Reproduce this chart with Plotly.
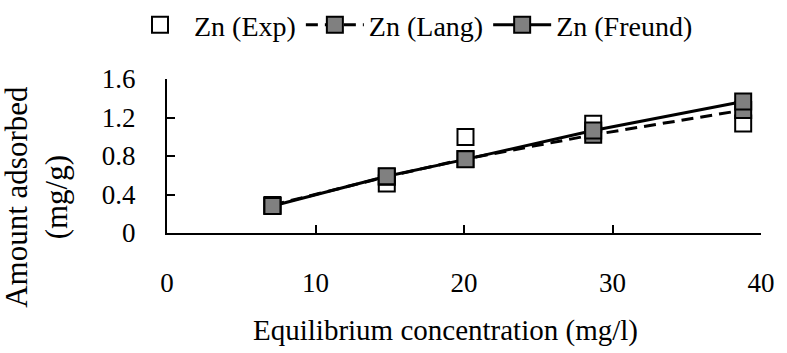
import plotly.graph_objects as go

# Data
conc = [7.1, 14.8, 20.1, 28.7, 38.8]
zn_exp = [0.28, 0.515, 0.998, 1.135, 1.138]
zn_lang = [0.29, 0.585, 0.77, 1.02, 1.277]
zn_freund = [0.28, 0.59, 0.765, 1.065, 1.367]

x_ticks = [0, 10, 20, 30, 40]
y_ticks = [0, 0.4, 0.8, 1.2, 1.6]
y_tick_text = ["0", "0.4", "0.8", "1.2", "1.6"]

FONT = "Liberation Serif"

fig = go.Figure()
fig.add_trace(go.Scatter(
    x=conc, y=zn_exp, mode="markers", name="Zn (Exp)",
    marker=dict(symbol="square", size=16, color="white",
                line=dict(color="black", width=2)),
))
fig.add_trace(go.Scatter(
    x=conc, y=zn_lang, mode="lines+markers", name="Zn (Lang)",
    line=dict(color="black", width=3, dash="12px,7px"),
    marker=dict(symbol="square", size=16, color="#808080",
                line=dict(color="black", width=2)),
))
fig.add_trace(go.Scatter(
    x=conc, y=zn_freund, mode="lines+markers", name="Zn (Freund)",
    line=dict(color="black", width=3),
    marker=dict(symbol="square", size=16, color="#808080",
                line=dict(color="black", width=2)),
))

fig.update_layout(
    width=787, height=353,
    margin=dict(l=167, r=18, t=79, b=120),
    paper_bgcolor="white", plot_bgcolor="white",
    font=dict(family=FONT, size=27, color="black"),
    showlegend=True,
    legend=dict(
        orientation="h", xref="container", yref="container",
        x=126 / 787, y=1.0, xanchor="left", yanchor="top",
        font=dict(family=FONT, size=28, color="black"),
        bgcolor="rgba(0,0,0,0)", itemwidth=58,
    ),
    xaxis=dict(
        range=[0, 40], tickvals=x_ticks, ticktext=[str(v) for v in x_ticks],
        showline=True, linecolor="black", linewidth=2,
        ticks="inside", ticklen=8, tickwidth=2, tickcolor="black",
        showgrid=False, zeroline=False, ticklabelstandoff=25,
        tickfont=dict(family=FONT, size=27, color="black"),
    ),
    yaxis=dict(
        range=[0, 1.6], tickvals=y_ticks, ticktext=y_tick_text,
        showline=True, linecolor="black", linewidth=2,
        ticks="inside", ticklen=8, tickwidth=2, tickcolor="black",
        showgrid=False, zeroline=False, ticklabelstandoff=24,
        tickfont=dict(family=FONT, size=27, color="black"),
    ),
    annotations=[
        dict(text="Amount adsorbed<br>(mg/g)", textangle=-90,
             xref="paper", yref="paper", x=(34 - 167) / 602, y=(233 - 197) / 154,
             xanchor="center", yanchor="middle", showarrow=False,
             font=dict(family=FONT, size=31, color="black")),
        dict(text="Equilibrium concentration (mg/l)",
             xref="paper", yref="paper", x=(449 - 167) / 602, y=-(330 - 233) / 154,
             xanchor="center", yanchor="middle", showarrow=False,
             font=dict(family=FONT, size=29, color="black")),
    ],
)

fig.write_html("out.html", config={"displayModeBar": False},
               post_script="document.body.style.margin='0';")
